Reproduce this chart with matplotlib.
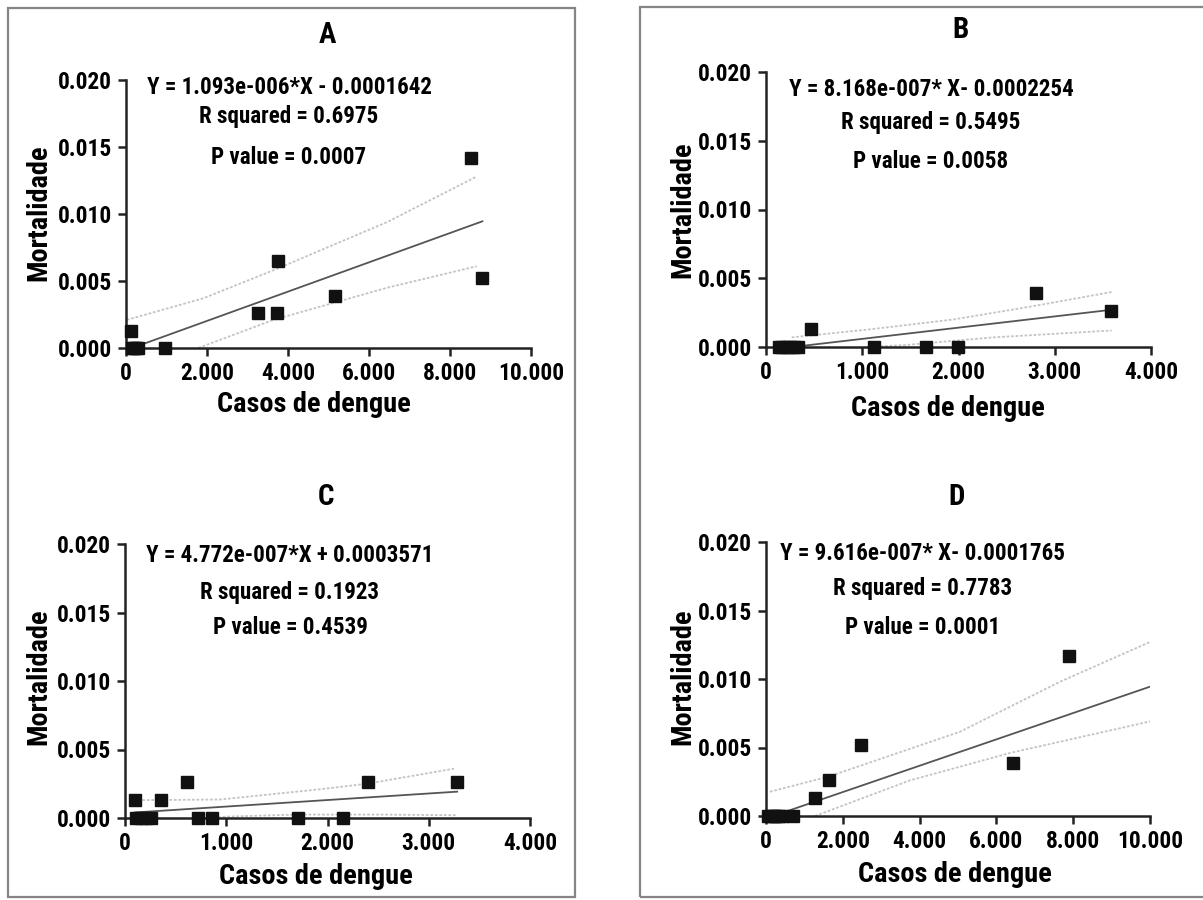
import matplotlib
matplotlib.use("Agg")
import matplotlib.pyplot as plt
import matplotlib.font_manager as fm
from matplotlib.patches import Rectangle
import numpy as np

# pick a condensed bold face if one is installed
names = {f.name for f in fm.fontManager.ttflist}
font = "DejaVu Sans"
for cand in ["Roboto Condensed", "Liberation Sans Narrow", "Open Sans Condensed", "DejaVu Sans Condensed"]:
    if cand in names:
        font = cand
        break
plt.rcParams['font.family'] = [font, 'DejaVu Sans']
plt.rcParams['font.weight'] = 'bold'

# ---- data ----
a_x = [120, 150, 200, 250, 300, 970, 3260, 3730, 3750, 5160, 8520, 8800]
a_y = [0.0013, 0, 0, 0, 0, 0, 0.0026, 0.0026, 0.0065, 0.0039, 0.0142, 0.0052]

b_x = [130, 170, 210, 250, 290, 330, 470, 1120, 1660, 1990, 2810, 3580]
b_y = [0, 0, 0, 0, 0, 0, 0.0013, 0, 0, 0, 0.0039, 0.0026]

c_x = [95, 110, 160, 210, 260, 360, 615, 720, 855, 1705, 2150, 2400, 3280]
c_y = [0.0013, 0, 0, 0, 0, 0.0013, 0.0026, 0, 0, 0, 0, 0.0026, 0.0026]

d_x = [60, 130, 200, 270, 340, 420, 700, 1280, 1640, 2480, 6420, 7880]
d_y = [0, 0, 0, 0, 0, 0, 0, 0.0013, 0.0026, 0.0052, 0.0039, 0.0117]

# fitted lines as printed on the chart
slopes = [1.093e-6, 8.168e-7, 4.772e-7, 9.616e-7]
intercepts = [-0.0001642, -0.0002254, 0.0003571, -0.0001765]
fit_ranges = [(120, 8800), (130, 3580), (95, 3280), (0, 10000)]

# 95% confidence bands
a_up_x = [20, 1900, 3640, 6450, 8660]
a_up_y = [0.0021, 0.0037, 0.0058, 0.0094, 0.0128]
a_lo_x = [1786, 3640, 6450, 8660]
a_lo_y = [0, 0.0021, 0.0045, 0.0061]

b_up_x = [267, 1100, 1946, 2800, 3592]
b_up_y = [0.0007, 0.0013, 0.0020, 0.0030, 0.0040]
b_lo_x = [1050, 1460, 2360, 3592]
b_lo_y = [0, 0.00015, 0.0007, 0.0012]

c_up_x = [82, 940, 1930, 2390, 3250]
c_up_y = [0.0013, 0.00135, 0.0021, 0.0025, 0.0036]
c_lo_x = [300, 1000, 1700, 2500, 3280]
c_lo_y = [-0.0004, 0.0001, 0.00025, 0.00025, 0.0002]

d_up_x = [100, 1623, 5052, 7656, 10000]
d_up_y = [0.00177, 0.00287, 0.00615, 0.0098, 0.0127]
d_lo_x = [1276, 3750, 6354, 10000]
d_lo_y = [0, 0.0026, 0.0046, 0.0069]

eq_texts = ["Y = 1.093e-006*X - 0.0001642", "Y = 8.168e-007* X- 0.0002254",
            "Y = 4.772e-007*X + 0.0003571", "Y = 9.616e-007* X- 0.0001765"]
r2_texts = ["R squared = 0.6975", "R squared = 0.5495", "R squared = 0.1923", "R squared = 0.7783"]
p_texts = ["P value = 0.0007", "P value = 0.0058", "P value = 0.4539", "P value = 0.0001"]
titles = ["A", "B", "C", "D"]
xmax = [10000, 4000, 4000, 10000]
xticks = [[0, 2000, 4000, 6000, 8000, 10000], [0, 1000, 2000, 3000, 4000],
          [0, 1000, 2000, 3000, 4000], [0, 2000, 4000, 6000, 8000, 10000]]
xticklabels = [["0", "2.000", "4.000", "6.000", "8.000", "10.000"],
               ["0", "1.000", "2.000", "3.000", "4.000"],
               ["0", "1.000", "2.000", "3.000", "4.000"],
               ["0", "2.000", "4.000", "6.000", "8.000", "10.000"]]
yticks = [0, 0.005, 0.010, 0.015, 0.020]
yticklabels = ["0.000", "0.005", "0.010", "0.015", "0.020"]

W, H = 1203, 900
fig = plt.figure(figsize=(W / 100, H / 100), dpi=100)

def fx(p):
    return p / W

def fy(p):
    return 1 - p / H

# outer grey boxes
fig.patches.append(Rectangle((fx(8), fy(897)), fx(567), (897 - 8) / H, transform=fig.transFigure,
                             fill=False, ec='#858585', lw=1.6))
fig.patches.append(Rectangle((fx(640), fy(897)), fx(620), (897 - 7) / H, transform=fig.transFigure,
                             fill=False, ec='#858585', lw=1.6))

# panel geometry in pixels: left, right, top, bottom of the data area
boxes = [(126, 531, 80, 348), (766, 1151, 72, 347), (125, 530, 544, 818), (766, 1150, 542, 816)]
title_pos = [(327, 35), (960, 30), (326, 497), (957, 497)]
text_pos = [(289, 87, 117, 157), (931, 89, 123, 162), (290, 556, 592, 627), (923, 553, 589, 627)]
xlab_pos = [(314, 405), (948, 408), (316, 876), (955, 875)]
ylab_pos = [(39, 213), (683, 210), (39, 677), (683, 677)]

datasets = [(a_x, a_y), (b_x, b_y), (c_x, c_y), (d_x, d_y)]
bands = [(a_up_x, a_up_y, a_lo_x, a_lo_y), (b_up_x, b_up_y, b_lo_x, b_lo_y),
         (c_up_x, c_up_y, c_lo_x, c_lo_y), (d_up_x, d_up_y, d_lo_x, d_lo_y)]

for i in range(4):
    l, r, t, b = boxes[i]
    ax = fig.add_axes([fx(l), fy(b), (r - l) / W, (b - t) / H])
    x, y = datasets[i]
    m, c = slopes[i], intercepts[i]

    ux, uy, lx, ly = bands[i]
    ax.plot(ux, uy, color='#c4c4c4', lw=1.3, ls=(0, (1.5, 1)))
    ax.plot(lx, ly, color='#c4c4c4', lw=1.3, ls=(0, (1.5, 1)))
    x0, x1 = fit_ranges[i]
    ax.plot([x0, x1], [m * x0 + c, m * x1 + c], color='#555555', lw=1.3)

    ax.plot(x, y, 's', color='#111111', ms=8, clip_on=False, zorder=5)

    ax.set_xlim(0, xmax[i])
    ax.set_ylim(0, 0.020)
    ax.set_xticks(xticks[i])
    ax.set_xticklabels(xticklabels[i])
    ax.set_yticks(yticks)
    ax.set_yticklabels(yticklabels)
    for sp in ['top', 'right']:
        ax.spines[sp].set_visible(False)
    for sp in ['left', 'bottom']:
        ax.spines[sp].set_linewidth(1.8)
        ax.spines[sp].set_color('#222222')
    ax.tick_params(axis='both', direction='out', length=6, width=1.8, color='#222222',
                   labelsize=16.8, pad=4)
    ax.patch.set_alpha(0)

    fig.text(fx(title_pos[i][0]), fy(title_pos[i][1]), titles[i], fontsize=21,
             ha='center', va='center', fontweight='bold')
    tx, y1, y2, y3 = text_pos[i]
    fig.text(fx(tx), fy(y1), eq_texts[i], fontsize=16.6, ha='center', va='center')
    fig.text(fx(tx), fy(y2), r2_texts[i], fontsize=16.6, ha='center', va='center')
    fig.text(fx(tx), fy(y3), p_texts[i], fontsize=16.6, ha='center', va='center')
    fig.text(fx(xlab_pos[i][0]), fy(xlab_pos[i][1]), "Casos de dengue", fontsize=20.4,
             ha='center', va='center')
    fig.text(fx(ylab_pos[i][0]), fy(ylab_pos[i][1]), "Mortalidade", fontsize=20.4,
             ha='center', va='center', rotation=90)

fig.savefig("out.png", dpi=100, facecolor='white')
